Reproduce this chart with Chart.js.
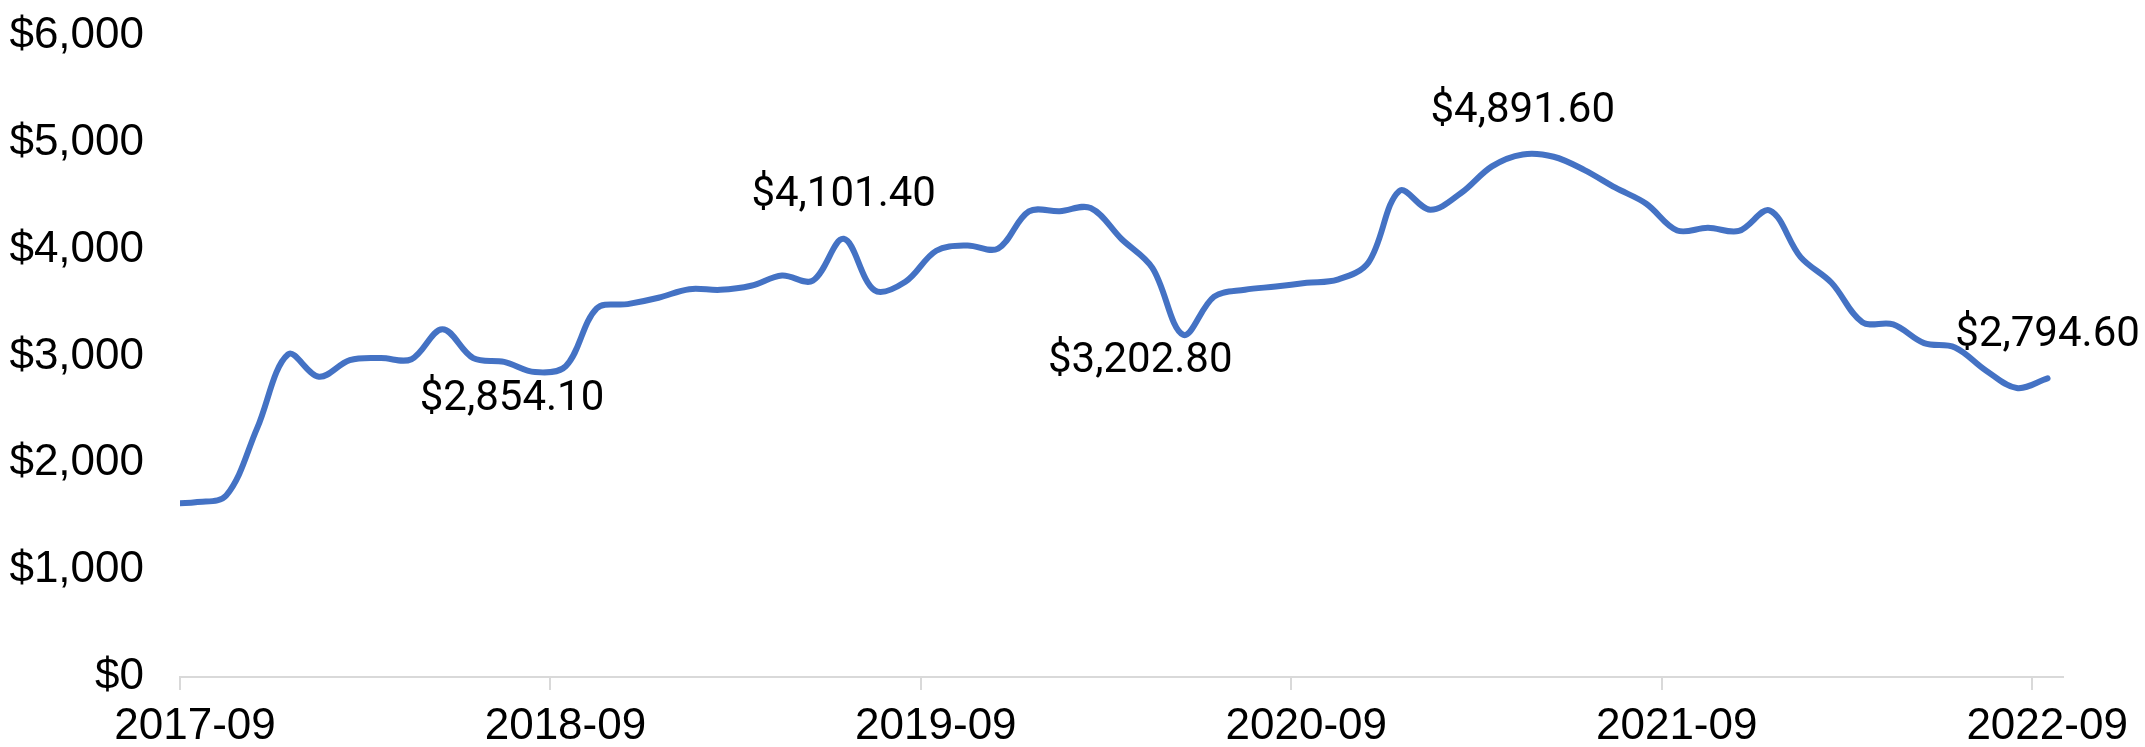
<!DOCTYPE html>
<html>
<head>
<meta charset="utf-8">
<script src="https://cdn.jsdelivr.net/npm/chart.js@4"></script>
<style>
  html, body { margin: 0; padding: 0; background: #fff; }
  #wrap { width: 2145px; height: 747px; position: relative; }
</style>
</head>
<body>
<div id="wrap"><canvas id="chart"></canvas></div>
<script>
// months since 2017-09 (points sit mid-month, the first one at the axis start)
var monthPos = [0, 0.5, 1.5, 2.5, 3.5, 4.5, 5.5, 6.5, 7.5, 8.5, 9.5, 10.5, 11.5, 12.5, 13.5, 14.5,
    15.5, 16.5, 17.5, 18.5, 19.5, 20.5, 21.5, 22.5, 23.5, 24.5, 25.5, 26.5, 27.5, 28.5, 29.5,
    30.5, 31.5, 32.5, 33.5, 34.5, 35.5, 36.5, 37.5, 38.5, 39.5, 40.5, 41.5, 42.5, 43.5, 44.5,
    45.5, 46.5, 47.5, 48.5, 49.5, 50.5, 51.5, 52.5, 53.5, 54.5, 55.5, 56.5, 57.5, 58.5, 59.5, 60.5];
var prices = [1626, 1635, 1700, 2330, 3020, 2810, 2965, 2985, 2975, 3256, 2985, 2950, 2854.1, 2910,
    3450, 3490, 3550, 3630, 3624, 3662, 3758, 3710, 4101.4, 3620, 3700, 3990, 4040, 4010, 4358,
    4360, 4390, 4100, 3830, 3202.8, 3560, 3625, 3655, 3690, 3720, 3880, 4550, 4374, 4530, 4780,
    4891.6, 4870, 4745, 4580, 4430, 4180, 4205, 4175, 4367, 3930, 3690, 3321, 3300, 3125, 3085,
    2870, 2705, 2794.6];
var tickMonths = [0, 12, 24, 36, 48, 60];
var tickLabels = ['2017-09', '2018-09', '2019-09', '2020-09', '2021-09', '2022-09'];
var yTicks = [0, 1000, 2000, 3000, 4000, 5000, 6000];
// indexes of the points that carry a value label
var labelled = [12, 22, 33, 44, 61];

var points = [];
for (var i = 0; i < monthPos.length; i++) {
    points.push({ x: monthPos[i], y: prices[i] });
}

function money(v, dec) {
    return '$' + v.toLocaleString('en-US', { minimumFractionDigits: dec, maximumFractionDigits: dec });
}

// draws the value labels: above peaks, below dips
var valueLabels = {
    id: 'valueLabels',
    afterDatasetsDraw: function (chart) {
        var ctx = chart.ctx;
        var meta = chart.getDatasetMeta(0);
        var place = { 12: [-23, 27], 22: [0, -43], 33: [-43, 27], 44: [0, -43], 61: [0, -43] };
        ctx.save();
        ctx.font = '42px Roboto';
        ctx.fillStyle = '#000';
        ctx.textAlign = 'center';
        ctx.textBaseline = 'middle';
        labelled.forEach(function (idx) {
            var p = meta.data[idx];
            var off = place[idx];
            ctx.fillText(money(prices[idx], 2), p.x + off[0], p.y + off[1]);
        });
        ctx.restore();
    }
};

new Chart(document.getElementById('chart'), {
    type: 'line',
    data: {
        datasets: [{
            data: points,
            borderColor: '#4472C4',
            borderWidth: 6,
            borderCapStyle: 'round',
            borderJoinStyle: 'round',
            tension: 0.35,
            pointRadius: 0,
            fill: false
        }]
    },
    options: {
        responsive: true,
        maintainAspectRatio: false,
        animation: false,
        layout: { padding: { left: 10, right: 82, top: 36, bottom: 0 } },
        plugins: {
            legend: { display: false },
            tooltip: { enabled: false }
        },
        scales: {
            x: {
                type: 'linear',
                min: 0,
                max: 61,
                afterBuildTicks: function (s) {
                    s.ticks = tickMonths.map(function (v) { return { value: v }; });
                },
                afterFit: function (s) { s.height = 70; },
                grid: {
                    drawOnChartArea: false,
                    drawTicks: true,
                    tickLength: 13,
                    color: '#d9d9d9',
                    lineWidth: 2
                },
                border: { display: true, color: '#d9d9d9', width: 2 },
                ticks: {
                    maxRotation: 0,
                    autoSkip: false,
                    labelOffset: 15,
                    padding: 10,
                    color: '#000',
                    font: { family: 'Liberation Sans', size: 44 },
                    callback: function (v) {
                        var k = tickMonths.indexOf(v);
                        return k >= 0 ? tickLabels[k] : '';
                    }
                }
            },
            y: {
                min: 0,
                max: 6000,
                afterBuildTicks: function (s) {
                    s.ticks = yTicks.map(function (v) { return { value: v }; });
                },
                afterFit: function (s) { s.width = 170; },
                // grid hidden, but tickLength keeps the gap between labels and plot
                grid: { display: false, drawTicks: true, tickLength: 36 },
                border: { display: false },
                ticks: {
                    padding: 0,
                    color: '#000',
                    font: { family: 'Liberation Sans', size: 44 },
                    callback: function (v) { return money(v, 0); }
                }
            }
        }
    },
    plugins: [valueLabels]
});
</script>
</body>
</html>
